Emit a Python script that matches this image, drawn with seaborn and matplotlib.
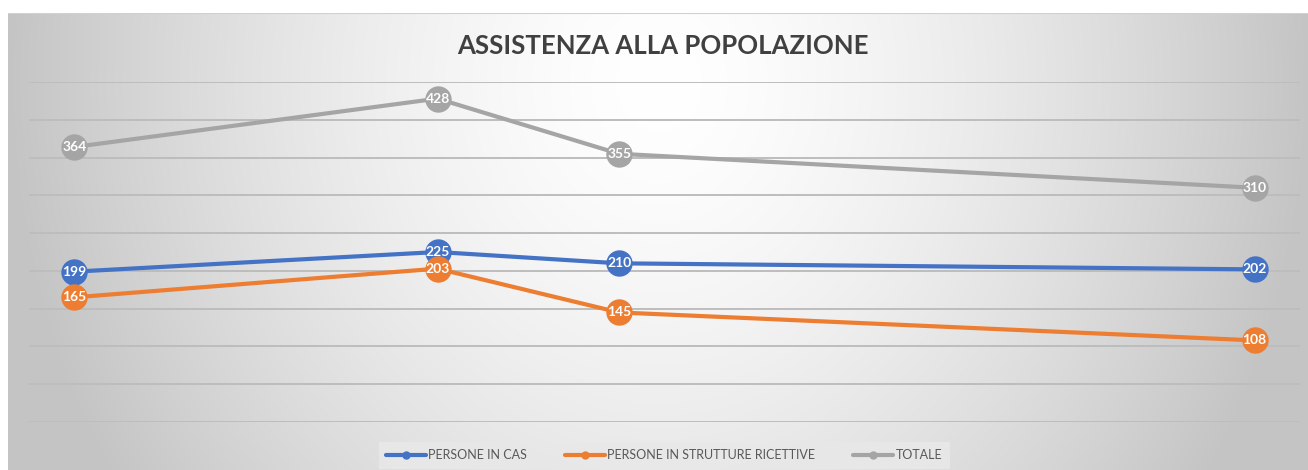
import numpy as np
import pandas as pd
import matplotlib
matplotlib.use("Agg")
import matplotlib.pyplot as plt
from matplotlib.lines import Line2D
import seaborn as sns

# ---- data ----
giorni = [0, 4, 6, 13]          # relative day positions (uneven spacing)
persone_cas = [199, 225, 210, 202]
persone_strutture = [165, 203, 145, 108]
totale = [364, 428, 355, 310]
serie_nomi = ["PERSONE IN CAS", "PERSONE IN STRUTTURE RICETTIVE", "TOTALE"]
colori = ["#4472C4", "#ED7D31", "#A5A5A5"]
titolo = "ASSISTENZA ALLA POPOLAZIONE"

df = pd.DataFrame({
    "giorno": giorni * 3,
    "valore": persone_cas + persone_strutture + totale,
    "serie": [serie_nomi[0]] * 4 + [serie_nomi[1]] * 4 + [serie_nomi[2]] * 4,
})

sns.set_theme(style="white")
plt.rcParams["font.family"] = ["Lato", "DejaVu Sans"]

W, H = 1308, 470
fig = plt.figure(figsize=(W / 100, H / 100), dpi=100)
fig.patch.set_facecolor("white")

# gradient background panel
bg = fig.add_axes([8 / W, 0, 1 - 8 / W, 1 - 13 / H], zorder=0)
ny, nx = 200, 600
yy, xx = np.mgrid[0:ny, 0:nx]
cx, cy = nx * 0.5, ny * 0.15
d = np.sqrt(((xx - cx) / (nx * 0.5)) ** 2 + ((yy - cy) / (ny * 1.6)) ** 2)
d = np.clip(d, 0, 1)
lo, hi = 0.77, 1.0
img = hi - (hi - lo) * d ** 1.5
bg.imshow(np.dstack([img, img, img]), aspect="auto", extent=[0, 1, 0, 1], interpolation="bilinear")
bg.set_axis_off()
bg.add_line(Line2D([0, 1], [1, 1], transform=bg.transAxes, color="#d0d0d0", lw=1.5))

ax = fig.add_axes([29 / W, 1 - 422 / H, (1300 - 29) / W, (422 - 82) / H], zorder=1)
ax.patch.set_alpha(0)

sns.lineplot(data=df, x="giorno", y="valore", hue="serie", hue_order=serie_nomi,
             palette=colori, marker="o", markersize=19, linewidth=3.0,
             markeredgewidth=0, ax=ax, legend=False, zorder=3)
for ln in ax.lines:
    ln.set_clip_on(False)

ax.set_xlim(-0.5, 13.5)
ax.set_ylim(0, 450)
ax.set_yticks(np.arange(0, 451, 50))
ax.yaxis.grid(True, color="#bdbdbd", linewidth=1.4)
ax.set_axisbelow(True)
ax.set_xticks([])
ax.set_yticklabels([])
ax.tick_params(left=False, bottom=False)
ax.set_xlabel("")
ax.set_ylabel("")
for s in ax.spines.values():
    s.set_visible(False)

for vals in (persone_cas, persone_strutture, totale):
    for x, v in zip(giorni, vals):
        ax.annotate(str(v), (x, v), ha="center", va="center", color="white",
                    fontsize=10, fontweight="bold", zorder=5, annotation_clip=False)

fig.text(663 / W, 1 - 46 / H, titolo, ha="center", va="center", fontsize=18.5,
         fontweight="bold", color="#404040")

handles = [Line2D([0], [0], color=c, lw=3, marker="o", markersize=5) for c in colori]
leg = fig.legend(handles, serie_nomi, loc="center", bbox_to_anchor=(664 / W, 1 - 455 / H),
                 ncol=3, frameon=True, fontsize=9, handlelength=3.2, columnspacing=3.0,
                 handletextpad=0.2, borderpad=0.6, fancybox=False)
leg.get_frame().set_facecolor("#e8e8e8")
leg.get_frame().set_edgecolor("none")
leg.get_frame().set_alpha(0.9)
for t in leg.get_texts():
    t.set_color("#595959")

fig.savefig("out.png", dpi=100)
